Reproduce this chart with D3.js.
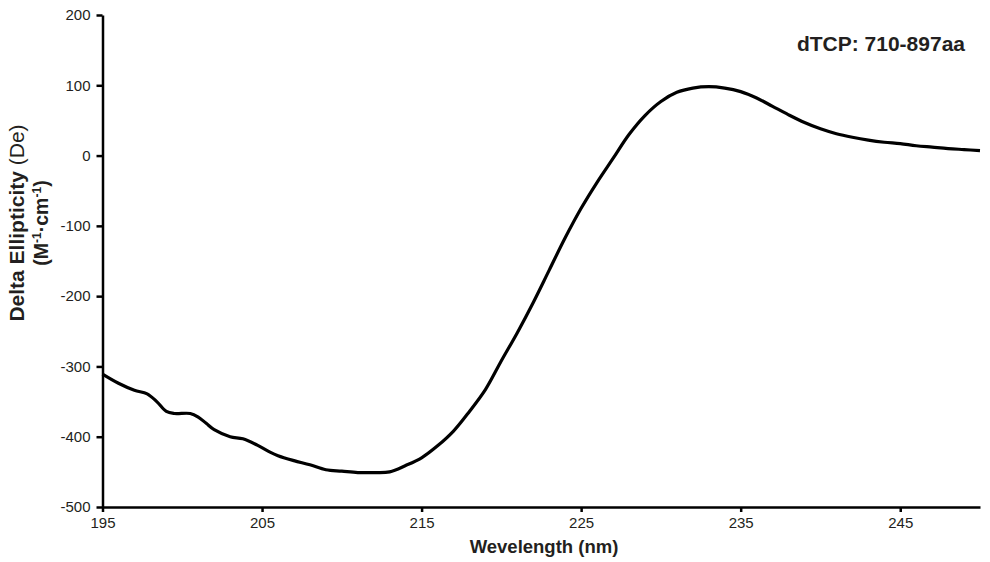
<!DOCTYPE html>
<html>
<head>
<meta charset="utf-8">
<script src="https://cdn.jsdelivr.net/npm/d3@7"></script>
<style>
  body { margin: 0; background: #fff; }
  text { font-family: "Liberation Sans", Arial, sans-serif; fill: #231f20; }
</style>
</head>
<body>
<div id="chart"></div>
<script>
// CD spectrum
let wavelength = [195, 196, 197, 197.8, 198.4, 199, 199.5, 200.5, 201, 201.5, 202, 203, 203.8, 204.7, 205.5, 206, 207, 208, 209, 210, 211, 212, 213, 214, 215, 216, 217, 218, 219, 220, 221, 222, 223, 224, 225, 226, 227, 228, 229, 230, 231, 232, 233, 234, 235, 236, 237, 238, 239, 240, 241, 242, 243, 244, 245, 246, 247, 248, 249, 250];
let ellipticity = [-311, -324, -334, -339, -350, -364, -367, -367, -372, -381, -390, -400, -403, -412, -422, -427, -434, -440, -447, -449, -451, -451, -450, -441, -430, -413, -392, -364, -333, -292, -252, -209, -163, -117, -75, -38, -4, 30, 57, 77, 90, 96, 98, 96, 91, 82, 70, 58, 47, 38, 31, 26, 22, 19, 17, 14, 12, 10, 8.5, 7];
let xTicks = [195, 205, 215, 225, 235, 245];
let yTicks = [200, 100, 0, -100, -200, -300, -400, -500];

let width = 990, height = 562;
let margin = {top: 15, right: 10, bottom: 55, left: 102.5};

let svg = d3.select("#chart")
    .append("svg")
    .attr("width", width)
    .attr("height", height);

let x = d3.scaleLinear().domain([195, 250]).range([margin.left, width - margin.right]);
let y = d3.scaleLinear().domain([-500, 200]).range([height - margin.bottom, margin.top]);

// axes (plain hyphen for negatives, like the original)
let fmt = function (d) { return String(d); };
let xAxis = svg.append("g")
    .attr("transform", "translate(0," + y(-500) + ")")
    .call(d3.axisBottom(x).tickValues(xTicks).tickFormat(fmt).tickSize(5).tickPadding(5).tickSizeOuter(0));
let yAxis = svg.append("g")
    .attr("transform", "translate(" + x(195) + ",0)")
    .call(d3.axisLeft(y).tickValues(yTicks).tickFormat(fmt).tickSize(6).tickPadding(6).tickSizeOuter(0));

[xAxis, yAxis].forEach(function (g) {
    g.select(".domain").attr("stroke", "#000").attr("stroke-width", 2.5);
    g.selectAll(".tick line").attr("stroke", "#000").attr("stroke-width", 2.5);
    g.selectAll(".tick text").attr("font-size", 15).style("fill", "#231f20");
});

// curve
let line = d3.line()
    .x(function (d, i) { return x(wavelength[i]); })
    .y(function (d) { return y(d); })
    .curve(d3.curveCatmullRom);

svg.append("path")
    .datum(ellipticity)
    .attr("fill", "none")
    .attr("stroke", "#000")
    .attr("stroke-width", 3.2)
    .attr("stroke-linejoin", "round")
    .attr("d", line);

// labels
svg.append("text")
    .attr("x", 965)
    .attr("y", 51)
    .attr("text-anchor", "end")
    .attr("font-size", 21)
    .attr("font-weight", "bold")
    .text("dTCP: 710-897aa");

svg.append("text")
    .attr("x", 544)
    .attr("y", 553)
    .attr("text-anchor", "middle")
    .attr("font-size", 18.5)
    .attr("font-weight", "bold")
    .text("Wevelength (nm)");

let yl = svg.append("text")
    .attr("transform", "translate(24,223) rotate(-90)")
    .attr("text-anchor", "middle")
    .attr("font-size", 21);
yl.append("tspan").attr("font-weight", "bold").text("Delta Ellipticity ");
yl.append("tspan").text("(De)");

let yl2 = svg.append("text")
    .attr("transform", "translate(48,223) rotate(-90)")
    .attr("text-anchor", "middle")
    .attr("font-size", 19.5)
    .attr("font-weight", "bold");
yl2.append("tspan").text("(M");
yl2.append("tspan").attr("font-size", 12).attr("dy", -7).text("-1");
yl2.append("tspan").attr("dy", 7).text("·cm");
yl2.append("tspan").attr("font-size", 12).attr("dy", -7).text("-1");
yl2.append("tspan").attr("dy", 7).text(")");
</script>
</body>
</html>
